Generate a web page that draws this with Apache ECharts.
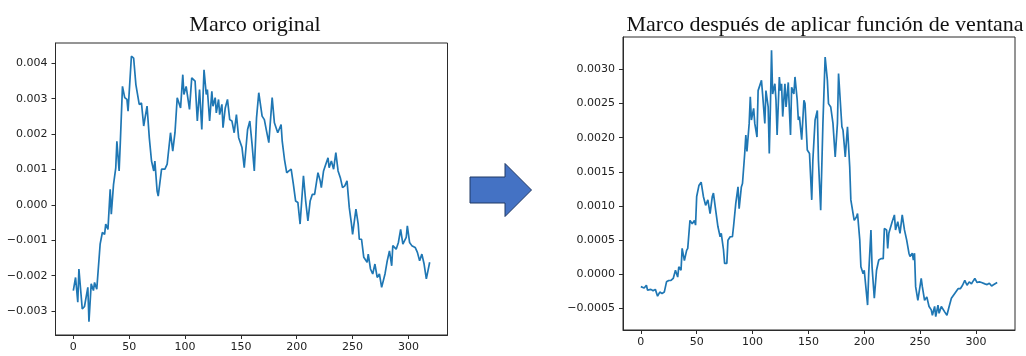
<!DOCTYPE html>
<html>
<head>
<meta charset="utf-8">
<script src="https://cdn.jsdelivr.net/npm/echarts@6/dist/echarts.min.js"></script>
<style>
  html, body { margin: 0; padding: 0; background: #ffffff; }
  #chart { width: 1026px; height: 356px; }
</style>
</head>
<body>
<div id="chart"></div>
<script>
// Sample frame before windowing (sample index, amplitude)
const origIndex = [0,2,4,5,8,10,13,14,16,18,19,21,24,26,28,29,31,33,34,36,38,39,41,42,44,46,48,49,52,54,56,59,61,63,66,68,70,72,73,75,76,79,82,84,87,89,91,93,96,98,99,101,104,106,109,111,113,115,117,119,120,122,124,125,127,128,130,131,133,134,136,138,140,142,144,146,148,151,153,156,158,160,162,164,166,169,171,173,175,178,180,183,186,187,189,191,193,195,197,199,201,203,206,208,210,212,214,216,219,221,222,224,226,228,229,231,233,235,237,239,241,243,245,247,249,250,253,255,256,258,260,263,264,266,268,270,272,274,276,279,281,283,285,286,289,291,293,295,298,299,301,303,306,308,310,312,314,316,319];
const origValues = [-0.00242,-0.00205,-0.00275,-0.00181,-0.00294,-0.00287,-0.00233,-0.00330,-0.00223,-0.00242,-0.00219,-0.00238,-0.00111,-0.00078,-0.00083,-0.00054,-0.00069,0.00044,-0.00026,0.00058,0.00105,0.00180,0.00096,0.00171,0.00335,0.00303,0.00298,0.00265,0.00420,0.00415,0.00340,0.00284,0.00288,0.00223,0.00279,0.00190,0.00124,0.00096,0.00124,0.00039,0.00025,0.00101,0.00101,0.00115,0.00204,0.00152,0.00204,0.00303,0.00274,0.00368,0.00312,0.00335,0.00270,0.00359,0.00350,0.00237,0.00326,0.00213,0.00382,0.00312,0.00326,0.00237,0.00321,0.00279,0.00303,0.00260,0.00298,0.00255,0.00284,0.00218,0.00274,0.00298,0.00241,0.00237,0.00204,0.00255,0.00190,0.00162,0.00105,0.00213,0.00237,0.00171,0.00096,0.00246,0.00317,0.00251,0.00241,0.00208,0.00176,0.00303,0.00232,0.00204,0.00227,0.00180,0.00129,0.00091,0.00096,0.00101,0.00058,0.00011,0.00007,-0.00054,0.00082,0.00011,-0.00045,0.00011,0.00030,0.00030,0.00091,0.00068,0.00049,0.00096,0.00115,0.00133,0.00105,0.00124,0.00101,0.00148,0.00096,0.00077,0.00049,0.00054,0.00068,-0.00007,-0.00054,-0.00083,-0.00012,-0.00054,-0.00097,-0.00097,-0.00148,-0.00162,-0.00139,-0.00181,-0.00195,-0.00167,-0.00205,-0.00195,-0.00233,-0.00195,-0.00158,-0.00130,-0.00172,-0.00115,-0.00125,-0.00106,-0.00069,-0.00111,-0.00092,-0.00059,-0.00106,-0.00115,-0.00120,-0.00134,-0.00158,-0.00139,-0.00167,-0.00209,-0.00162];

// Same frame after the window function (sample index, amplitude)
const winIndex = [0,1,3,5,6,9,11,13,15,17,19,21,23,25,27,29,31,33,34,36,37,39,41,42,44,46,48,49,50,52,54,56,58,60,62,64,65,67,69,71,72,74,75,77,78,80,82,83,85,87,88,90,91,93,94,95,97,98,99,101,102,104,105,108,109,111,112,114,115,116,117,118,120,121,122,124,125,126,127,129,130,132,133,134,135,137,138,140,141,142,144,146,147,149,151,153,154,156,158,159,161,163,165,167,168,170,172,174,176,177,180,181,183,185,187,188,190,191,193,194,196,197,199,200,203,204,206,207,209,211,213,215,217,218,220,221,222,225,227,228,230,232,234,236,238,240,241,243,244,245,246,248,251,252,254,256,258,260,261,263,264,266,267,269,272,274,276,278,281,282,284,286,288,290,292,294,296,297,299,301,303,305,308,310,312,314,316,319];
const winValues = [-0.00018,-0.00016,-0.00020,-0.00016,-0.00023,-0.00022,-0.00024,-0.00022,-0.00032,-0.00026,-0.00028,-0.00026,-0.00011,-0.00009,-0.00009,-0.00006,0.00006,-0.00004,0.00011,0.00006,0.00038,0.00020,0.00035,0.00038,0.00079,0.00074,0.00079,0.00072,0.00114,0.00130,0.00135,0.00114,0.00101,0.00109,0.00089,0.00114,0.00119,0.00094,0.00070,0.00055,0.00060,0.00036,0.00016,0.00016,0.00050,0.00055,0.00055,0.00070,0.00104,0.00128,0.00096,0.00128,0.00133,0.00177,0.00204,0.00180,0.00221,0.00260,0.00226,0.00243,0.00221,0.00201,0.00269,0.00284,0.00264,0.00221,0.00269,0.00245,0.00177,0.00245,0.00328,0.00264,0.00279,0.00255,0.00204,0.00289,0.00269,0.00279,0.00231,0.00279,0.00245,0.00281,0.00240,0.00204,0.00274,0.00264,0.00289,0.00255,0.00226,0.00231,0.00197,0.00255,0.00250,0.00182,0.00177,0.00109,0.00167,0.00226,0.00240,0.00167,0.00094,0.00221,0.00318,0.00284,0.00250,0.00245,0.00221,0.00172,0.00221,0.00294,0.00216,0.00211,0.00172,0.00216,0.00157,0.00109,0.00089,0.00079,0.00084,0.00089,0.00050,0.00011,0.00001,0.00006,-0.00045,0.00001,0.00065,0.00011,-0.00035,0.00006,0.00021,0.00023,0.00023,0.00067,0.00065,0.00038,0.00060,0.00077,0.00087,0.00065,0.00077,0.00060,0.00087,0.00065,0.00050,0.00031,0.00026,0.00031,0.00021,0.00031,-0.00018,-0.00038,-0.00006,-0.00018,-0.00038,-0.00033,-0.00047,-0.00052,-0.00060,-0.00047,-0.00062,-0.00045,-0.00057,-0.00047,-0.00055,-0.00060,-0.00047,-0.00035,-0.00028,-0.00030,-0.00021,-0.00021,-0.00016,-0.00009,-0.00016,-0.00011,-0.00014,-0.00011,-0.00006,-0.00012,-0.00011,-0.00012,-0.00014,-0.00015,-0.00013,-0.00017,-0.00015,-0.00012];

// Tick labels
const xTicks = [0, 50, 100, 150, 200, 250, 300];
const origYTicks = [-0.003, -0.002, -0.001, 0.000, 0.001, 0.002, 0.003, 0.004];
const winYTicks = [-0.0005, 0.0000, 0.0005, 0.0010, 0.0015, 0.0020, 0.0025, 0.0030];

const titles = ['Marco original', 'Marco después de aplicar función de ventana'];

// Axis limits with a 5% margin on each side of the data
function padded(values) {
  const lo = Math.min(...values), hi = Math.max(...values);
  const m = (hi - lo) * 0.05;
  return [lo - m, hi + m];
}

const toPairs = (xs, ys) => xs.map((x, i) => [x, ys[i]]);
const fmt = (d) => (v) => (v < 0 ? '\u2212' : '') + Math.abs(v).toFixed(d);

const ink = '#2b2b2b';
const tickFont = { fontFamily: 'DejaVu Sans', fontSize: 11, color: '#222' };

function xAxisFor(grid, idx) {
  const [lo, hi] = padded(idx);
  return {
    type: 'value', gridIndex: grid, min: lo, max: hi,
    axisLine: { show: true, onZero: false, lineStyle: { color: ink, width: 1 } },
    axisTick: { show: true, length: 4, lineStyle: { color: ink }, customValues: xTicks },
    axisLabel: Object.assign({ margin: 7, customValues: xTicks, formatter: (v) => String(v) }, tickFont),
    splitLine: { show: false }
  };
}
function yAxisFor(grid, vals, ticks, digits) {
  const [lo, hi] = padded(vals);
  return {
    type: 'value', gridIndex: grid, min: lo, max: hi,
    axisLine: { show: true, onZero: false, lineStyle: { color: ink, width: 1 } },
    axisTick: { show: true, length: 4, lineStyle: { color: ink }, customValues: ticks },
    axisLabel: Object.assign({ margin: 8, customValues: ticks, formatter: fmt(digits) }, tickFont),
    splitLine: { show: false }
  };
}

const chart = echarts.init(document.getElementById('chart'), null, { renderer: 'canvas' });
chart.setOption({
  animation: false,
  backgroundColor: '#ffffff',
  title: [
    { text: titles[0], left: 250, top: 9, textAlign: 'center',
      textStyle: { fontFamily: 'Liberation Serif', fontSize: 22, fontWeight: 'normal', color: '#111' } },
    { text: titles[1], left: 820, top: 9, textAlign: 'center',
      textStyle: { fontFamily: 'Liberation Serif', fontSize: 22, fontWeight: 'normal', color: '#111' } }
  ],
  grid: [
    { left: 55.5, top: 43, width: 392, height: 292, show: true, borderColor: ink, borderWidth: 1, backgroundColor: 'transparent' },
    { left: 623, top: 37, width: 392, height: 293, show: true, borderColor: ink, borderWidth: 1, backgroundColor: 'transparent' }
  ],
  xAxis: [xAxisFor(0, origIndex), xAxisFor(1, winIndex)],
  yAxis: [yAxisFor(0, origValues, origYTicks, 3), yAxisFor(1, winValues, winYTicks, 4)],
  series: [
    { type: 'line', xAxisIndex: 0, yAxisIndex: 0, data: toPairs(origIndex, origValues),
      showSymbol: false, lineStyle: { color: '#1f77b4', width: 1.7 } },
    { type: 'line', xAxisIndex: 1, yAxisIndex: 1, data: toPairs(winIndex, winValues),
      showSymbol: false, lineStyle: { color: '#1f77b4', width: 1.7 } }
  ],
  graphic: [{
    type: 'polygon',
    shape: { points: [[470, 177], [505, 177], [505, 163.5], [531.5, 190], [505, 216.5], [505, 203], [470, 203]] },
    style: { fill: '#4472c4', stroke: '#1f3864', lineWidth: 1 }
  }]
});
</script>
</body>
</html>
